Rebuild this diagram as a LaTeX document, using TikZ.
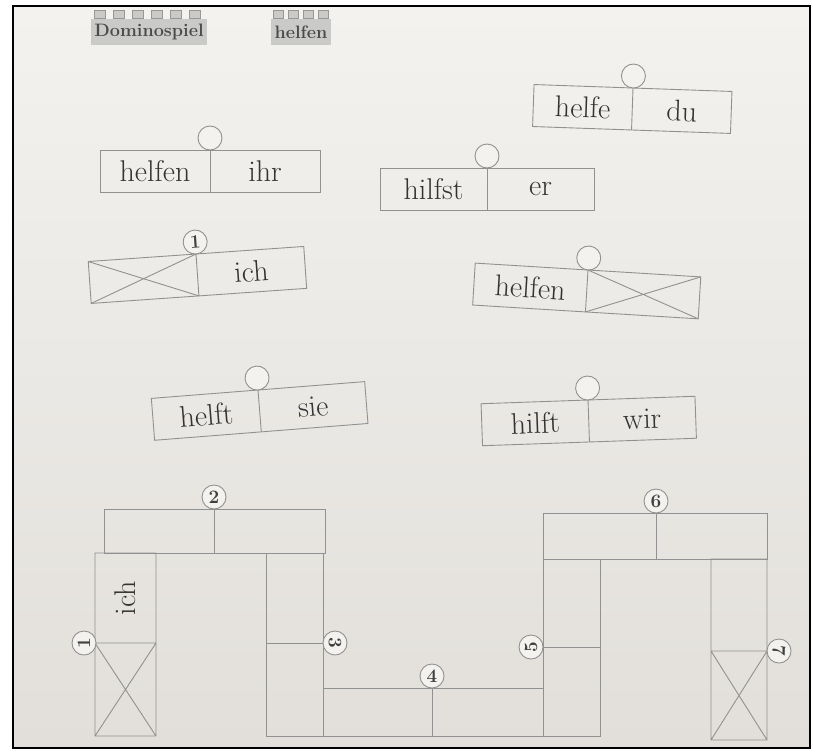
\documentclass[tikz,border=0pt]{standalone}
\usepackage{fontspec}
\usepackage{xcolor}
\definecolor{paperhell}{RGB}{243,242,239}
\definecolor{paperdunkel}{RGB}{226,223,218}
\definecolor{strich}{RGB}{145,145,145}
\definecolor{block}{RGB}{202,202,200}
\definecolor{blocktext}{RGB}{75,75,75}
\tikzset{
  dom/.style={draw=strich,line width=0.9pt},
  kreis/.style={circle,draw=strich,line width=0.9pt,fill=paperhell,minimum size=24pt,inner sep=0pt,
    font=\fontsize{19}{19}\selectfont\bfseries,text=black!75},
  wort/.style={font=\fontsize{30}{32}\selectfont,text=black!80},
  stein/.style={fill=block,draw=block!75!black,line width=0.5pt},
  titel/.style={font=\fontsize{18}{19}\selectfont\bfseries,text=blocktext},
}
\begin{document}
\begin{tikzpicture}[x=1pt,y=-1pt]
  \useasboundingbox (0,0) rectangle (813,750);
  \fill[white] (0,0) rectangle (813,750);
  \shade[top color=paperhell,bottom color=paperdunkel] (13,6) rectangle (810,748);
  \draw[line width=2pt] (13,6) rectangle (810,748);
  % Titelsteine
  \fill[block] (91,19) rectangle (207,45);
  \foreach \i in {0,...,5} \draw[stein] ({94+\i*19},10) rectangle ++(11,8);
  \node[titel] (titel) at (149,32) {Dominospiel};
  \fill[block] (271,19) rectangle (331,45);
  \foreach \i in {0,...,3} \draw[stein] ({273+\i*15},10) rectangle ++(10,8);
  \node[titel] (verb) at (301,32) {helfen};
  % lose Dominosteine
  \foreach \n/\x/\y/\w/\h/\l/\r/\z in {a/633/88/-2/99/helfe/du/{},b/210/150/0/110/helfen/ihr/{},
      c/487/168/0/107/hilfst/er/{},d/196/254/4/108/{}/ich/1,e/588/270/-3.5/113/helfen/{}/{},
      f/258/390/4.5/107/helft/sie/{},g/588/400/2/107/hilft/wir/{}}{
    \begin{scope}[shift={(\x,\y)},rotate=\w]
      \path (-\h,0) coordinate (\n-tl) (\h,0) coordinate (\n-tr) (-\h,42) coordinate (\n-bl)
        (\h,42) coordinate (\n-br) (0,0) coordinate (\n-t) (0,42) coordinate (\n-b);
      \draw[dom] (\n-tl) -- (\n-tr) -- (\n-br) -- (\n-bl) -- cycle;
      \draw[dom] (\n-t) -- (\n-b);
      \node[kreis,transform shape] (\n-k) at (0,-12) {\z};
      \node[wort,transform shape] (\n-l) at (-\h/2,21) {\l};
      \node[wort,transform shape] (\n-r) at (\h/2,21) {\r};
    \end{scope}
  }
  \draw[dom] (d-tl) -- (d-b) (d-bl) -- (d-t);
  \draw[dom] (e-t) -- (e-br) (e-b) -- (e-tr);
  % Dominokette
  \draw[dom] (104,509) rectangle (325,553) (214,509) -- (214,553);
  \draw[dom] (95,553) rectangle (156,736) (95,643) -- (156,643) (95,643) -- (156,736) (95,736) -- (156,643);
  \draw[dom] (266,553) rectangle (323,736) (266,643) -- (323,643);
  \draw[dom] (323,688) rectangle (543,736) (432,688) -- (432,736);
  \draw[dom] (543,559) rectangle (600,736) (543,647) -- (600,647);
  \draw[dom] (543,513) rectangle (767,559) (656,513) -- (656,559);
  \draw[dom] (711,559) rectangle (767,740) (711,651) -- (767,651) (711,651) -- (767,740) (711,740) -- (767,651);
  \node[wort,rotate=90] (k1-ich) at (125,598) {ich};
  \node[kreis,rotate=90] (k1) at (84,643) {1};
  \node[kreis] (k2) at (214,497) {2};
  \node[kreis,rotate=-90] (k3) at (335,643) {3};
  \node[kreis] (k4) at (432,676) {4};
  \node[kreis,rotate=90] (k5) at (531,647) {5};
  \node[kreis] (k6) at (656,501) {6};
  \node[kreis,rotate=-90] (k7) at (779,651) {7};
\end{tikzpicture}
\end{document}
